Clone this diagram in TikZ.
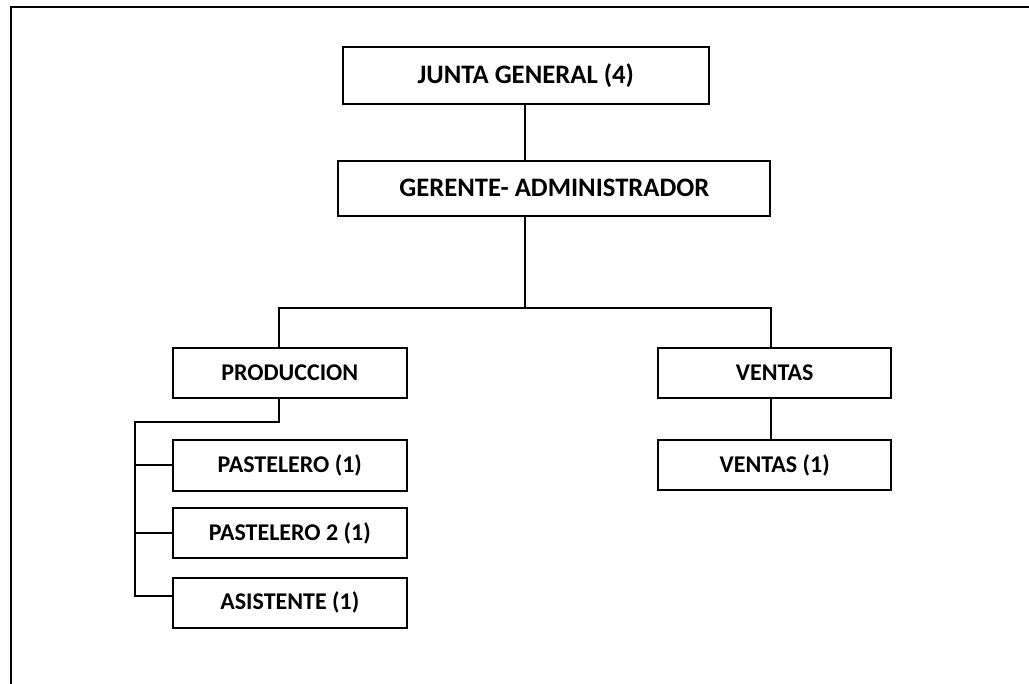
\documentclass[tikz,border=0pt]{standalone}
\usepackage{fontspec}
\setmainfont{Carlito}
\begin{document}
\begin{tikzpicture}[x=0.75pt,y=-0.75pt,
  box/.style={draw=black,line width=1.5pt,fill=white,inner sep=0pt,
    font=\bfseries\fontsize{18}{21}\selectfont},
  bigbox/.style={box,font=\bfseries\fontsize{20}{23}\selectfont},
  conn/.style={draw=black,line width=1.5pt}]
\useasboundingbox (0,0) rectangle (1029,684);
\fill[white] (0,0) rectangle (1029,684);
\draw[line width=1.6pt] (10.7,684) -- (10.7,7) -- (1029,7);
% boxes
\node[bigbox,minimum width=274.5pt,minimum height=42.5pt] (junta) at (525.8,75.6) {JUNTA GENERAL (4)};
\node[bigbox,minimum width=324pt,minimum height=41.5pt] (gerente) at (554.4,188.3) {GERENTE- ADMINISTRADOR};
\node[box,minimum width=175.7pt,minimum height=37pt] (prod) at (289.8,373) {PRODUCCION};
\node[box,minimum width=174.5pt,minimum height=37pt] (ventas) at (774.7,373) {VENTAS};
\node[box,minimum width=174.5pt,minimum height=37.5pt] (ventas1) at (774.7,465) {VENTAS (1)};
\node[box,minimum width=175.7pt,minimum height=38pt] (past1) at (289.8,465.4) {PASTELERO (1)};
\node[box,minimum width=175.7pt,minimum height=37.3pt] (past2) at (289.8,533.2) {PASTELERO 2 (1)};
\node[box,minimum width=175.7pt,minimum height=37.3pt] (asis) at (289.8,602.8) {ASISTENTE (1)};
% coordinates
\coordinate (busM) at (525,307.7);
\coordinate (busL) at (279,307.7);
\coordinate (busR) at (770.5,307.7);
\coordinate (subtop) at (135,421.7);
\coordinate (subbot) at (135,596);
% connectors
\draw[conn] (busM |- junta.south) -- (busM |- gerente.north);
\draw[conn] (busM |- gerente.south) -- (busM);
\draw[conn] (busL |- prod.north) -- (busL) -- (busR) -- (busR |- ventas.north);
\draw[conn] (busR |- ventas.south) -- (busR |- ventas1.north);
\draw[conn] (busL |- prod.south) -- (busL |- subtop) -- (subtop) -- (subbot) -- (subbot -| asis.west);
\draw[conn] (subtop |- past1.west) -- (past1.west);
\draw[conn] (subtop |- past2.west) -- (past2.west);
\end{tikzpicture}
\end{document}
